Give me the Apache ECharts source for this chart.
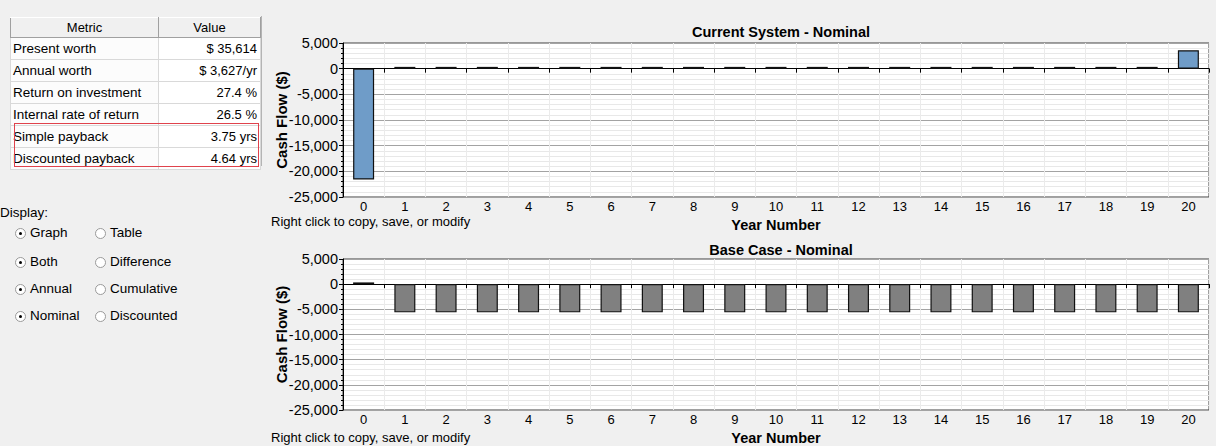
<!DOCTYPE html>
<html>
<head>
<meta charset="utf-8">
<script src="https://cdn.jsdelivr.net/npm/echarts@6/dist/echarts.min.js"></script>
<style>
  html, body { margin: 0; padding: 0; background: #f0f0f0; }
  body { width: 1216px; height: 446px; position: relative; overflow: hidden;
         font-family: "Liberation Sans", Arial, sans-serif; font-size: 13px; color: #000; }
  #chart { position: absolute; left: 0; top: 0; width: 1216px; height: 446px; }
  #panel { position: absolute; left: 0; top: 0; width: 262px; height: 446px; }
  table.metrics { position: absolute; left: 10px; top: 17px; border-collapse: collapse;
                  table-layout: fixed; width: 250px; background: #fff; }
  table.metrics th { height: 19px; background: #f0f0f0; font-weight: normal; text-align: center;
                     border: 1px solid #a0a0a0; border-top-color: #fff; padding: 0; font-size: 13px; }
  table.metrics td { height: 21px; border: 1px solid #d9d9d9; padding: 0 3px; white-space: nowrap; }
  table.metrics td.name { text-align: left; padding-left: 2px; background: #fcfcfc; font-size: 13.5px; }
  table.metrics td.val { text-align: right; font-size: 13px; }
  #redbox { position: absolute; left: 14px; top: 123px; width: 243px; height: 42px;
            border: 1px solid #e0424c; }
  .disp { position: absolute; left: 0px; top: 205px; font-size: 13.5px; }
  .radio { position: absolute; width: 11px; height: 11px; border-radius: 50%;
           border: 1px solid #9a9a9a; background: #fff; box-sizing: border-box; }
  .radio.on::after { content: ""; position: absolute; left: 3px; top: 3px; width: 3px; height: 3px;
                     border-radius: 50%; background: #000; }
  .rlabel { position: absolute; font-size: 13.5px; }
  .vsep { position: absolute; left: 261px; top: 16px; width: 1px; height: 150px; background: #b4b4b4; }
</style>
</head>
<body>
<div id="chart"></div>
<div id="panel"></div>
<script>
// Year axis and the two annual cash flow series ($)
const years = ['0','1','2','3','4','5','6','7','8','9','10','11','12','13','14','15','16','17','18','19','20'];
const currentSystem = [-21600, 350, 350, 350, 350, 350, 350, 350, 350, 350, 350, 350, 350, 350, 350, 350, 350, 350, 350, 350, 3600];
const baseCase = [350, -5600, -5600, -5600, -5600, -5600, -5600, -5600, -5600, -5600, -5600, -5600, -5600, -5600, -5600, -5600, -5600, -5600, -5600, -5600, -5600];

// Summary metrics
const metricNames = ['Present worth', 'Annual worth', 'Return on investment', 'Internal rate of return', 'Simple payback', 'Discounted payback'];
const metricValues = ['$ 35,614', '$ 3,627/yr', '27.4 %', '26.5 %', '3.75 yrs', '4.64 yrs'];

// Display option pairs: [left option, right option], left one selected
const displayOptions = [['Graph', 'Table'], ['Both', 'Difference'], ['Annual', 'Cumulative'], ['Nominal', 'Discounted']];

// ---- left panel ----
const panel = document.getElementById('panel');
let html = '<div class="vsep"></div><table class="metrics"><colgroup><col style="width:148px"><col style="width:102px"></colgroup>';
html += '<tr><th>Metric</th><th>Value</th></tr>';
metricNames.forEach((n, i) => {
  html += '<tr><td class="name">' + n + '</td><td class="val">' + metricValues[i] + '</td></tr>';
});
html += '</table><div id="redbox"></div>';
html += '<div class="disp">Display:</div>';
const rowY = [228, 257, 284, 311];
displayOptions.forEach((pair, i) => {
  const y = rowY[i];
  html += '<span class="radio on" style="left:15px;top:' + y + 'px"></span>';
  html += '<span class="rlabel" style="left:30px;top:' + (y - 3) + 'px">' + pair[0] + '</span>';
  html += '<span class="radio" style="left:95px;top:' + y + 'px"></span>';
  html += '<span class="rlabel" style="left:110px;top:' + (y - 3) + 'px">' + pair[1] + '</span>';
});
panel.innerHTML = html;

// ---- charts ----
const chart = echarts.init(document.getElementById('chart'), null, { renderer: 'svg' });
const FONT = '"Liberation Sans", Arial, sans-serif';
const grids = [
  { left: 343, top: 43, width: 866, height: 154 },
  { left: 343, top: 259, width: 866, height: 155 }
];

function xAxisFor(idx) {
  return {
    type: 'category', gridIndex: idx, data: years,
    name: 'Year Number', nameLocation: 'middle', nameGap: 20,
    nameTextStyle: { fontFamily: FONT, fontWeight: 'bold', fontSize: 14.5, color: '#000' },
    axisLine: { lineStyle: { color: '#000', width: 1 } },
    axisTick: { show: true, length: 4, lineStyle: { color: '#000' } },
    axisLabel: { fontFamily: FONT, fontSize: 13, color: '#000', margin: 3 },
    splitLine: { show: true, lineStyle: { color: '#ebebeb', width: 1 } }
  };
}
function yAxisFor(idx) {
  return {
    type: 'value', gridIndex: idx, min: -25000, max: 5000, interval: 5000,
    name: 'Cash Flow ($)', nameLocation: 'middle', nameGap: 54, nameRotate: 90,
    nameMoveOverlap: false,
    nameTextStyle: { fontFamily: FONT, fontWeight: 'bold', fontSize: 15, color: '#000' },
    axisLine: { show: true, lineStyle: { color: '#000', width: 1 } },
    axisTick: { show: true, length: 4, lineStyle: { color: '#000' } },
    minorTick: { show: true, splitNumber: 5, length: 2, lineStyle: { color: '#000' } },
    axisLabel: { fontFamily: FONT, fontSize: 14.5, color: '#000', margin: 5,
                 formatter: v => v.toLocaleString('en-US') },
    splitLine: { show: true, lineStyle: { color: '#a3a3a3', width: 1 } },
    minorSplitLine: { show: true, lineStyle: { color: '#e8e8e8', width: 1 } }
  };
}

chart.setOption({
  backgroundColor: 'transparent',
  animation: false,
  title: [
    { text: 'Current System - Nominal', left: 776, textAlign: 'center', top: 19,
      textStyle: { fontFamily: FONT, fontWeight: 'bold', fontSize: 14.5, color: '#000' } },
    { text: 'Base Case - Nominal', left: 776, textAlign: 'center', top: 237,
      textStyle: { fontFamily: FONT, fontWeight: 'bold', fontSize: 14.5, color: '#000' } }
  ],
  grid: grids.map(g => Object.assign({ show: true, backgroundColor: '#fff', borderColor: '#404040', borderWidth: 1 }, g)),
  xAxis: [xAxisFor(0), xAxisFor(1)],
  yAxis: [yAxisFor(0), yAxisFor(1)],
  series: [
    { type: 'bar', xAxisIndex: 0, yAxisIndex: 0, data: currentSystem, barWidth: 21,
      itemStyle: { color: '#6f9cc8', borderColor: '#111', borderWidth: 1.2 } },
    { type: 'bar', xAxisIndex: 1, yAxisIndex: 1, data: baseCase, barWidth: 21,
      itemStyle: { color: '#808080', borderColor: '#111', borderWidth: 1.2 } }
  ],
  graphic: [
    { type: 'text', left: 271, top: 215,
      style: { text: 'Right click to copy, save, or modify', font: '13px ' + FONT, fill: '#000' } },
    { type: 'text', left: 271, top: 431,
      style: { text: 'Right click to copy, save, or modify', font: '13px ' + FONT, fill: '#000' } }
  ]
});
</script>
</body>
</html>
